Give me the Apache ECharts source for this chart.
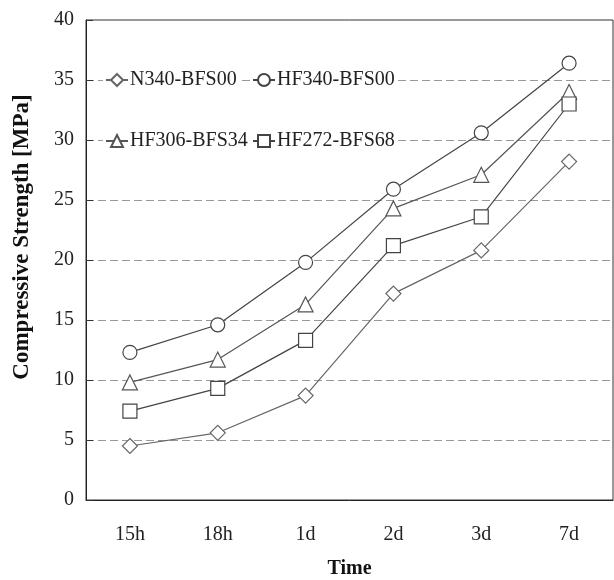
<!DOCTYPE html>
<html>
<head>
<meta charset="utf-8">
<script src="https://cdn.jsdelivr.net/npm/echarts@6/dist/echarts.min.js"></script>
<style>
  html, body { margin: 0; padding: 0; background: #fff; }
  #chart { width: 614px; height: 580px; }
</style>
</head>
<body>
<div id="chart"></div>
<script>
  // strength data (MPa)
  let times = ['15h', '18h', '1d', '2d', '3d', '7d']
  let names = ['N340-BFS00', 'HF340-BFS00', 'HF306-BFS34', 'HF272-BFS68']
  let n340 = [4.5, 5.6, 8.7, 17.2, 20.8, 28.2]
  let hf340 = [12.3, 14.6, 19.8, 25.9, 30.6, 36.4]
  let hf306 = [9.8, 11.7, 16.3, 24.3, 27.1, 34.0]
  let hf272 = [7.4, 9.3, 13.3, 21.2, 23.6, 33.0]
  let yTicks = [0, 5, 10, 15, 20, 25, 30, 35, 40]

  let font = '"Liberation Serif", "Times New Roman", serif'
  let myChart = echarts.init(document.getElementById('chart'))

  function line(name, data, symbol, size, color) {
    return {
      name: name,
      type: 'line',
      data: data,
      symbol: symbol,
      symbolSize: size,
      lineStyle: { color: color, width: 1.2 },
      itemStyle: { color: '#fff', borderColor: color, borderWidth: 1.2 },
      emphasis: { disabled: true },
      z: 3
    }
  }

  // one legend box per entry so they line up like the original table
  function legendItem(name, left, top) {
    return {
      data: [name],
      left: left,
      top: top,
      padding: [1, 2],
      backgroundColor: '#fff',
      itemWidth: 22,
      itemHeight: 15,
      selectedMode: false,
      textStyle: { fontFamily: font, fontSize: 20, color: '#222', padding: [0, 0, 0, -3] },
      z: 5
    }
  }

  let option = {
    animation: false,
    backgroundColor: '#fff',
    grid: {
      left: 86,
      right: 1,
      top: 20,
      bottom: 80,
      outerBoundsMode: 'none',
      show: true,
      borderColor: '#333',
      borderWidth: 1
    },
    legend: [
      legendItem(names[0], 103, 69),
      legendItem(names[1], 250, 69),
      legendItem(names[2], 103, 130),
      legendItem(names[3], 250, 130)
    ],
    xAxis: {
      type: 'category',
      data: times,
      boundaryGap: true,
      name: 'Time',
      nameLocation: 'middle',
      nameGap: 59,
      nameTextStyle: { fontFamily: font, fontSize: 20, fontWeight: 'bold', color: '#111' },
      axisLine: { lineStyle: { color: '#222', width: 1 } },
      axisTick: { inside: true, length: 7, lineStyle: { color: '#333' } },
      axisLabel: { fontFamily: font, fontSize: 20, color: '#222', margin: 25 },
      splitLine: { show: false }
    },
    yAxis: {
      type: 'value',
      min: yTicks[0],
      max: yTicks[yTicks.length - 1],
      interval: yTicks[1] - yTicks[0],
      name: 'Compressive Strength [MPa]',
      nameLocation: 'middle',
      nameGap: 52,
      nameTextStyle: { fontFamily: font, fontSize: 23, fontWeight: 'bold', color: '#111', padding: [0, 0, 0, 46] },
      axisLine: { show: true, lineStyle: { color: '#222', width: 1 } },
      axisTick: { show: true, inside: true, length: 7, lineStyle: { color: '#333' } },
      axisLabel: { fontFamily: font, fontSize: 20, color: '#222', margin: 12 },
      splitLine: {
        show: true,
        showMinLine: false,
        showMaxLine: false,
        lineStyle: { color: '#999', type: [8, 4], width: 1 }
      }
    },
    series: [
      line(names[0], n340, 'diamond', 15, '#666'),
      line(names[1], hf340, 'circle', 14, '#444'),
      line(names[2], hf306, 'triangle', 15, '#555'),
      line(names[3], hf272, 'rect', 14, '#444')
    ]
  }
  myChart.setOption(option)
</script>
</body>
</html>
